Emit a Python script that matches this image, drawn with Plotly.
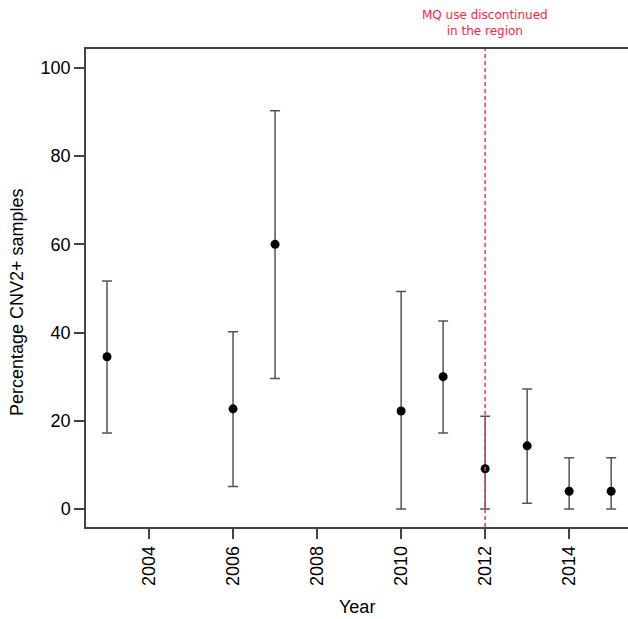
import plotly.graph_objects as go

years = [2003, 2006, 2007, 2010, 2011, 2012, 2013, 2014, 2015]
pct = [34.5, 22.7, 60.0, 22.2, 30.0, 9.1, 14.3, 4.0, 4.0]
ci_low = [17.2, 5.1, 29.6, 0.0, 17.2, 0.0, 1.3, 0.0, 0.0]
ci_high = [51.7, 40.2, 90.3, 49.3, 42.6, 21.0, 27.2, 11.6, 11.6]
x_ticks = [2004, 2006, 2008, 2010, 2012, 2014]
y_ticks = [0, 20, 40, 60, 80, 100]
cutoff_year = 2012
note_text = "MQ use discontinued<br>in the region"

err_plus = [h - p for h, p in zip(ci_high, pct)]
err_minus = [p - l for p, l in zip(pct, ci_low)]

FONT = "Liberation Sans, Arial, sans-serif"
AX = "#444444"

fig = go.Figure()
fig.add_trace(go.Scatter(
    x=years, y=pct, mode="markers",
    marker=dict(color="black", size=9),
    error_y=dict(type="data", symmetric=False, array=err_plus, arrayminus=err_minus,
                 color="#555555", thickness=1.5, width=5),
    showlegend=False, hoverinfo="skip",
))

fig.add_shape(type="line", xref="x", yref="paper", x0=cutoff_year, x1=cutoff_year,
              y0=0, y1=1, line=dict(color="#ff3355", width=1.5, dash="4px,3px"), layer="above")

fig.add_annotation(text=note_text, xref="x", yref="paper", x=cutoff_year, y=1.054,
                   xanchor="center", yanchor="middle", showarrow=False,
                   font=dict(family="DejaVu Sans, Verdana, sans-serif", size=12, color="#ff2244"))

fig.add_annotation(text="Percentage CNV2+ samples", xref="paper", yref="paper",
                   x=-0.127, y=0.471, textangle=-90, showarrow=False,
                   xanchor="center", yanchor="middle",
                   font=dict(family=FONT, size=18, color="black"))
fig.add_annotation(text="Year", xref="paper", yref="paper",
                   x=0.5, y=-0.167, showarrow=False, xanchor="center", yanchor="middle",
                   font=dict(family=FONT, size=18, color="black"))

fig.update_layout(
    width=628, height=619,
    margin=dict(l=86, r=0, t=49, b=92, autoexpand=False),
    paper_bgcolor="white", plot_bgcolor="white",
    font=dict(family=FONT, size=18, color="black"),
    xaxis=dict(range=[2002.5, 2015.4], tickmode="array", tickvals=x_ticks,
               ticktext=[str(v) for v in x_ticks], tickangle=-90,
               ticks="outside", ticklen=10, tickwidth=1.5, tickcolor=AX,
               showline=True, linecolor=AX, linewidth=1.5, mirror=True,
               showgrid=False, zeroline=False, tickfont=dict(size=18), automargin=False),
    yaxis=dict(range=[-4.1, 104.3], tickmode="array", tickvals=y_ticks,
               ticks="outside", ticklen=10, tickwidth=1.5, tickcolor=AX,
               showline=True, linecolor=AX, linewidth=1.5, mirror=False,
               showgrid=False, zeroline=False, tickfont=dict(size=18), automargin=False),
)

fig.write_html("out.html", config={"displayModeBar": False},
               post_script="document.body.style.margin='0';document.body.style.overflow='hidden';")
